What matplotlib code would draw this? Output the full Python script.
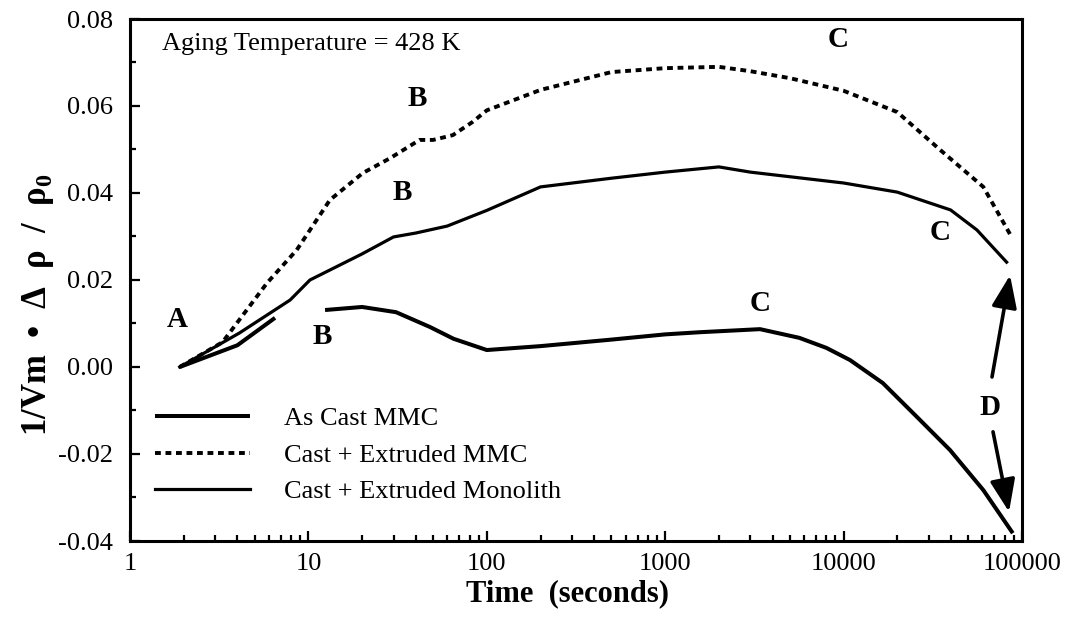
import numpy as np
import matplotlib
matplotlib.use("Agg")
import matplotlib.pyplot as plt
from matplotlib.ticker import FixedLocator, FixedFormatter, LogLocator, NullFormatter

plt.rcParams['font.family'] = ['Liberation Serif', 'DejaVu Serif']
plt.rcParams['mathtext.fontset'] = 'custom'
plt.rcParams['mathtext.rm'] = 'Liberation Serif'
plt.rcParams['mathtext.bf'] = 'Liberation Serif:bold'

# ---- data ----
cast_t = [1.9, 4.0, 6.5, np.nan, 12.4, 20, 31, 48, 65, 100, 200, 500, 1000, 1570,
          3400, 5650, 8000, 10860, 16600, 25800, 39500, 60700, 88800]
cast_y = [0.0, 0.005, 0.0113, np.nan, 0.0131, 0.0138, 0.0126, 0.0092, 0.0065, 0.0039,
          0.0048, 0.0063, 0.0075, 0.008, 0.0087, 0.0067, 0.0044, 0.0016, -0.0037,
          -0.0115, -0.0191, -0.0283, -0.0382]

ext_t = [1.9, 3.3, 5.86, 8.6, 13.2, 20.2, 28.7, 42, 50, 64.5, 83, 100, 200, 500,
         1000, 2000, 3000, 5000, 10000, 20000, 34800, 60700, 87400]
ext_y = [0.0, 0.0057, 0.0193, 0.0269, 0.0384, 0.0446, 0.048, 0.0522, 0.0522, 0.0533,
         0.0563, 0.059, 0.0637, 0.0678, 0.0687, 0.069, 0.068, 0.0664, 0.0635, 0.0586,
         0.0499, 0.0414, 0.0299]

mono_t = [1.9, 4.1, 7.9, 10.2, 20, 30, 40, 60, 100, 200, 500, 1000, 2000, 3000,
          10000, 20000, 39800, 55900, 82000]
mono_y = [0.0, 0.0078, 0.0154, 0.020, 0.026, 0.0299, 0.0308, 0.0324, 0.036, 0.0414,
          0.0434, 0.0448, 0.046, 0.0448, 0.0423, 0.0402, 0.0361, 0.0315, 0.0241]

series_labels = ["As Cast MMC", "Cast + Extruded MMC", "Cast + Extruded Monolith"]

xticks = [1, 10, 100, 1000, 10000, 100000]
xtick_labels = ["1", "10", "100", "1000", "10000", "100000"]
yticks = [-0.04, -0.02, 0.00, 0.02, 0.04, 0.06, 0.08]
ytick_labels = ["-0.04", "-0.02", "0.00", "0.02", "0.04", "0.06", "0.08"]

letters = ["A", "B", "B", "B", "C", "C", "C", "D"]
letter_t = [1.83, 40.6, 33.5, 11.9, 9310, 34700, 3400, 66200]
letter_y = [0.011, 0.0618, 0.040, 0.0071, 0.0752, 0.031, 0.0147, -0.0092]

arrow_tail_t = [67900, 68800]
arrow_tail_y = [-0.0023, -0.0149]
arrow_tip_t = [85700, 84600]
arrow_tip_y = [0.0211, -0.0333]

# ---- figure ----
fig = plt.figure(figsize=(10.68, 6.21), dpi=100)
ax = fig.add_axes([130/1068, 1-541/621, (1022-130)/1068, (541-19)/621])

ax.plot(cast_t, cast_y, color='black', lw=2.9, solid_capstyle='butt', label=series_labels[0])
ax.plot(ext_t, ext_y, color='black', lw=2.8, linestyle=(0, (1.5, 1.2)), label=series_labels[1])
ax.plot(mono_t, mono_y, color='black', lw=2.3, label=series_labels[2])

ax.set_xscale('log')
ax.set_xlim(1, 100000)
ax.set_ylim(-0.04, 0.08)

ax.xaxis.set_major_locator(FixedLocator(xticks))
ax.xaxis.set_major_formatter(FixedFormatter(xtick_labels))
ax.xaxis.set_minor_locator(LogLocator(base=10, subs=np.arange(2, 10)))
ax.xaxis.set_minor_formatter(NullFormatter())
ax.yaxis.set_major_locator(FixedLocator(yticks))
ax.yaxis.set_major_formatter(FixedFormatter(ytick_labels))
ax.yaxis.set_minor_locator(FixedLocator(np.arange(-0.03, 0.08, 0.02)))

ax.tick_params(which='both', direction='in', top=False, right=False, width=1.6)
ax.tick_params(which='major', length=7, labelsize=19, pad=9)
ax.tick_params(which='minor', length=4.5)
ax.tick_params(axis='y', which='major', pad=12)
for s in ax.spines.values():
    s.set_linewidth(2.2)

for txt, tx, ty in zip(letters, letter_t, letter_y):
    ax.text(tx, ty, txt, fontsize=21, fontweight='bold', ha='center', va='center')

for tt, ty, ht, hy in zip(arrow_tail_t, arrow_tail_y, arrow_tip_t, arrow_tip_y):
    ax.annotate('', xy=(ht, hy), xytext=(tt, ty),
                arrowprops=dict(arrowstyle='-|>,head_length=0.9,head_width=0.35',
                                lw=2.6, color='black', mutation_scale=22,
                                shrinkA=0, shrinkB=0))

ax.text(1.51, 0.0729, "Aging Temperature = 428 K", fontsize=19, ha='left', va='baseline')

ax.legend(loc='center left', bbox_to_anchor=(155/1068, 1-455/621),
          bbox_transform=fig.transFigure, frameon=False, fontsize=19,
          handlelength=3.6, handletextpad=1.3, labelspacing=0.5,
          borderpad=0, borderaxespad=0)

fig.text(568/1068, 1-601/621, "Time  (seconds)", fontsize=22, fontweight='bold',
         ha='center', va='baseline')
fig.text(38/1068, 1-305/621, r"1/Vm  •  Δ  ρ  /  ρ$_\mathbf{0}$", fontsize=25,
         fontweight='bold', rotation=90, ha='center', va='center')

fig.savefig("out.png", dpi=100)
